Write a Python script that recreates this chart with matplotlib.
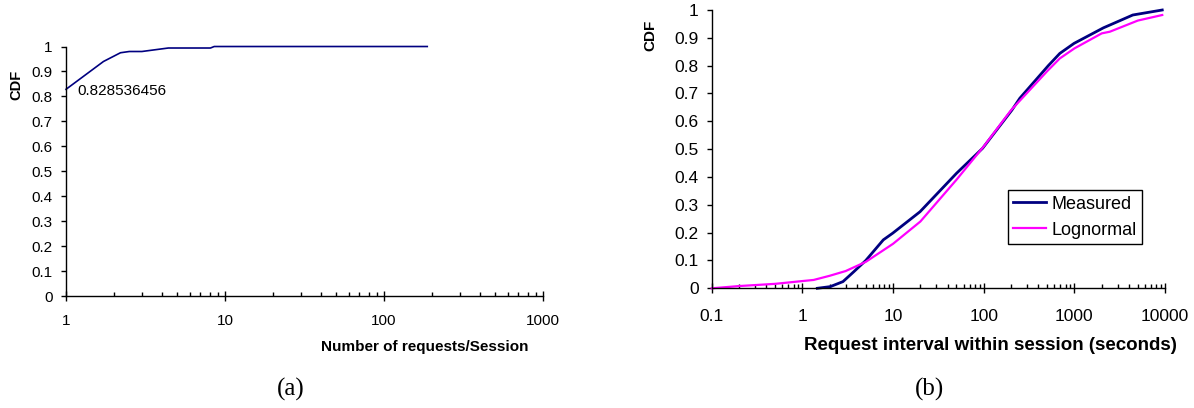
import numpy as np
import matplotlib
matplotlib.use('Agg')
import matplotlib.pyplot as plt
from matplotlib.ticker import LogLocator, FixedLocator, NullFormatter

plt.rcParams['font.family'] = ['Liberation Sans', 'DejaVu Sans']

# (a) number of requests per session
req_x = [1, 1.72, 2.2, 2.5, 3.0, 4.4, 8.1, 8.55, 187]
req_cdf = [0.828536456, 0.94, 0.975, 0.98, 0.98, 0.994, 0.994, 1.0, 1.0]
req_ticks = [1, 10, 100, 1000]
req_tick_labels = ['1', '10', '100', '1000']

# (b) request interval within session
meas_x = [1.46, 2.03, 2.8, 3.7, 5.0, 7.8, 9.9, 19.8, 50, 97, 204, 250, 515,
          690, 990, 2090, 2460, 4400, 9300]
meas_cdf = [0.0, 0.006, 0.024, 0.06, 0.10, 0.174, 0.198, 0.275, 0.413, 0.503,
            0.64, 0.683, 0.80, 0.844, 0.88, 0.936, 0.946, 0.982, 1.0]
logn_x = [0.1, 0.2, 0.5, 1.0, 1.33, 2.0, 3.0, 5.0, 10, 20, 50, 100, 200, 500,
          690, 1000, 2000, 2460, 5000, 9300]
logn_cdf = [0.0, 0.008, 0.016, 0.026, 0.03, 0.045, 0.062, 0.095, 0.16, 0.24,
            0.39, 0.51, 0.64, 0.78, 0.826, 0.862, 0.916, 0.922, 0.962, 0.982]
int_ticks = [0.1, 1, 10, 100, 1000, 10000]
int_tick_labels = ['0.1', '1', '10', '100', '1000', '10000']

cdf_ticks = np.arange(0, 11) / 10
cdf_labels = ['0'] + ['%.1f' % v for v in cdf_ticks[1:-1]] + ['1']

NAVY = '#000080'
MAGENTA = '#FF00FF'


def style_axes(ax, ticks, labels, size, xpad):
    ax.set_xscale('log')
    ax.set_ylim(0, 1)
    for side in ['top', 'right']:
        ax.spines[side].set_visible(False)
    for side in ['left', 'bottom']:
        ax.spines[side].set_linewidth(1.0)
    ax.xaxis.set_major_locator(FixedLocator(ticks))
    ax.set_xticklabels(labels)
    ax.xaxis.set_minor_locator(LogLocator(base=10, subs=np.arange(2, 10)))
    ax.xaxis.set_minor_formatter(NullFormatter())
    ax.set_yticks(cdf_ticks)
    ax.set_yticklabels(cdf_labels)
    ax.tick_params(axis='x', which='major', direction='inout', length=6.5,
                   width=1, pad=xpad, labelsize=size)
    ax.tick_params(axis='x', which='minor', direction='in', length=3, width=1)
    ax.tick_params(axis='y', direction='out', length=3.5, width=1, pad=6,
                   labelsize=size)


fig = plt.figure(figsize=(11.94, 4.08), dpi=100)

ax1 = fig.add_axes([0.0553, 0.2745, 0.3995, 0.6115])
ax1.plot(req_x, req_cdf, color=NAVY, lw=1.2, clip_on=False)
style_axes(ax1, req_ticks, req_tick_labels, 11, 9.5)
ax1.set_xlim(1, 1000)
ax1.annotate('0.828536456', xy=(req_x[0], req_cdf[0]), xytext=(8, -1),
             textcoords='offset points', fontsize=11, va='center', ha='left')
ax1.set_ylabel('CDF', fontsize=10.5, fontweight='bold')
ax1.yaxis.set_label_coords(-0.105, 0.846)
ax1.yaxis.label.set_va('center')
ax1.set_xlabel('Number of requests/Session', fontsize=11, fontweight='bold')
ax1.xaxis.set_label_coords(0.753, -0.204)
ax1.xaxis.label.set_va('center')

ax2 = fig.add_axes([0.5961, 0.2934, 0.3797, 0.6821])
ax2.plot(meas_x, meas_cdf, color=NAVY, lw=2, label='Measured', clip_on=False)
ax2.plot(logn_x, logn_cdf, color=MAGENTA, lw=1.6, label='Lognormal',
         clip_on=False)
style_axes(ax2, int_ticks, int_tick_labels, 12.5, 12)
ax2.set_xlim(0.1, 10000)
ax2.set_ylabel('CDF', fontsize=11, fontweight='bold')
ax2.yaxis.set_label_coords(-0.136, 0.910)
ax2.yaxis.label.set_va('center')
ax2.set_xlabel('Request interval within session (seconds)', fontsize=13.5,
               fontweight='bold')
ax2.xaxis.set_label_coords(0.614, -0.207)
ax2.xaxis.label.set_va('center')
leg = ax2.legend(loc='lower left', bbox_to_anchor=(0.653, 0.159),
                 borderaxespad=0, fontsize=13, fancybox=False, framealpha=1,
                 edgecolor='black', handlelength=1.8, handletextpad=0.3,
                 labelspacing=0.5, borderpad=0.3)
leg.get_frame().set_linewidth(1.0)

fig.text(291 / 1194, 1 - 389 / 408, '(a)', fontsize=18, ha='center',
         va='center', family=['Liberation Serif', 'DejaVu Serif'])
fig.text(930 / 1194, 1 - 389 / 408, '(b)', fontsize=18, ha='center',
         va='center', family=['Liberation Serif', 'DejaVu Serif'])

plt.savefig('out.png', dpi=100)
